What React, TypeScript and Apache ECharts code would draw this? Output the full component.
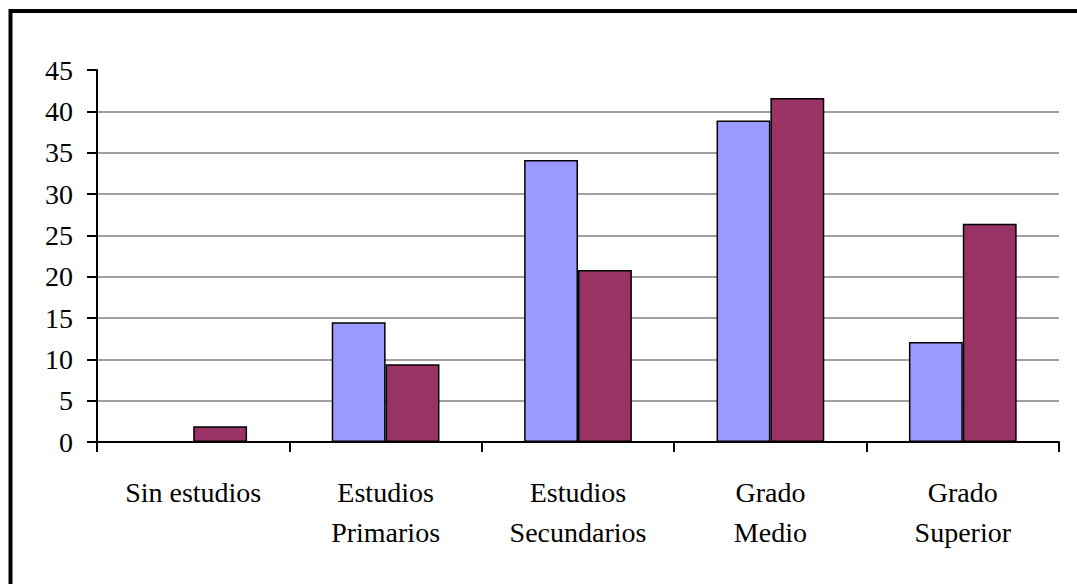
import React, { useEffect, useRef } from "react";
import * as echarts from "echarts";

const categories = ["Sin estudios", "Estudios\nPrimarios", "Estudios\nSecundarios", "Grado\nMedio", "Grado\nSuperior"];
const seriesA = [null, 14.5, 34.1, 38.9, 12.1];
const seriesB = [1.9, 9.4, 20.8, 41.6, 26.4];
const splitColors = ["#808080", "#808080", "#808080", "#808080", "#808080", "#808080", "#808080", "#808080", "#808080", "rgba(0,0,0,0)"];

export default function App() {
  const ref = useRef<HTMLDivElement>(null);
  useEffect(() => {
    const chart = echarts.init(ref.current!, undefined, { renderer: "svg" });
    const font = "Liberation Serif";
    chart.setOption({
      animation: false,
      backgroundColor: "#ffffff",
      graphic: [
        {
          type: "rect",
          shape: { x: 10.5, y: 11, width: 1100, height: 620 },
          style: { fill: "none", stroke: "#000", lineWidth: 4 },
          silent: true,
        },
      ],
      grid: { left: 97, right: 18, top: 70, bottom: 142, containLabel: false },
      xAxis: {
        type: "category",
        data: categories,
        axisLine: { show: true, lineStyle: { color: "#000", width: 2 } },
        axisTick: { show: true, alignWithLabel: false, length: 10, lineStyle: { color: "#000", width: 2 } },
        axisLabel: { color: "#000", fontFamily: font, fontSize: 28, lineHeight: 40, margin: 30, interval: 0 },
        splitLine: { show: false },
      },
      yAxis: {
        type: "value",
        min: 0,
        max: 45,
        interval: 5,
        axisLine: { show: true, lineStyle: { color: "#000", width: 2 } },
        axisTick: { show: true, inside: false, length: 10, lineStyle: { color: "#000", width: 2 } },
        axisLabel: { color: "#000", fontFamily: font, fontSize: 28, margin: 24 },
        splitLine: { show: true, lineStyle: { color: splitColors, width: 1.5 } },
      },
      series: [
        {
          type: "bar",
          data: seriesA,
          barGap: "0%",
          barCategoryGap: "44%",
          itemStyle: { color: "#9999FF", borderColor: "#000", borderWidth: 1.5 },
        },
        {
          type: "bar",
          data: seriesB,
          barGap: "0%",
          barCategoryGap: "44%",
          itemStyle: { color: "#993366", borderColor: "#000", borderWidth: 1.5 },
        },
      ],
    });
    return () => chart.dispose();
  }, []);
  return <div ref={ref} style={{ position: "fixed", left: 0, top: 0, width: 1077, height: 584 }} />;
}
